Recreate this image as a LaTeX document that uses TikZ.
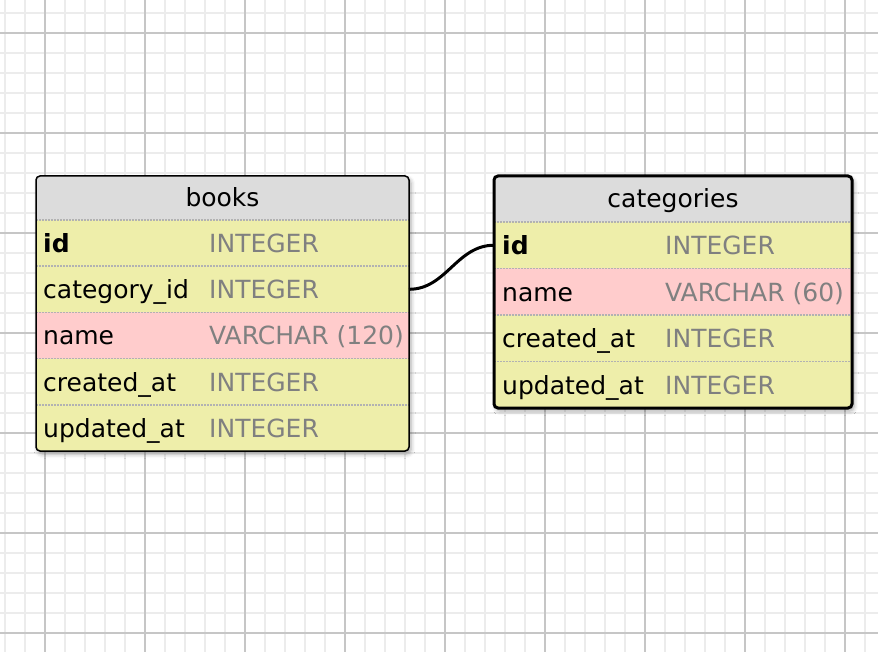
\documentclass[tikz,border=0pt]{standalone}
\usepackage{fontspec}
\setmainfont{DejaVu Sans}
\usetikzlibrary{positioning, shadows.blur}
\definecolor{tblhead}{RGB}{220,220,220}
\definecolor{rowyellow}{RGB}{238,238,170}
\definecolor{rowpink}{RGB}{255,204,204}
\definecolor{typegray}{RGB}{128,128,128}

\begin{document}
\begin{tikzpicture}[x=1pt, y=-1pt, font=\fontsize{25}{29}\selectfont,
		minor/.style={line width=2pt, gray!15},
		major/.style={line width=2pt, gray!45},
		fieldrow/.style={inner sep=0pt, outer sep=0pt},
		hdr/.style={inner sep=0pt, text height=20pt, text depth=3pt},
		sep/.style={gray!60, line width=1.6pt, dash pattern=on 1.6pt off 1.4pt},
		fname/.style={anchor=west, inner sep=0pt, text height=20pt, text depth=1pt},
		ftype/.style={fname, text=typegray},
		tshadow/.style={blur shadow={shadow xshift=2pt, shadow yshift=-3pt, shadow blur radius=4pt, shadow opacity=35}},
		link/.style={line width=3pt}]
		\useasboundingbox (0,0) rectangle (878,652);
		% grid
		\foreach \x in {5,25,...,865} \draw[minor] (\x,0) -- (\x,652);
		\foreach \y in {13,33,...,653} \draw[minor] (0,\y) -- (878,\y);
		\foreach \x in {45,145,...,845} \draw[major] (\x,0) -- (\x,652);
		\foreach \y in {33,133,...,633} \draw[major] (0,\y) -- (878,\y);

		% books
		\node[fieldrow, minimum width=373pt, minimum height=44pt, anchor=north west] (b0) at (36,176) {};
		\node[fieldrow, minimum width=373pt, minimum height=46.2pt, below=0pt of b0] (b1) {};
		\node[fieldrow, minimum width=373pt, minimum height=46.2pt, below=0pt of b1] (b2) {};
		\node[fieldrow, minimum width=373pt, minimum height=46.2pt, below=0pt of b2] (b3) {};
		\node[fieldrow, minimum width=373pt, minimum height=46.2pt, below=0pt of b3] (b4) {};
		\node[fieldrow, minimum width=373pt, minimum height=46.2pt, below=0pt of b4] (b5) {};
		\path[tshadow, rounded corners=4pt] (b0.north west) rectangle (b5.south east);
		\begin{scope}
			\clip[rounded corners=4pt] (b0.north west) rectangle (b5.south east);
			\fill[tblhead] (b0.north west) rectangle (b0.south east);
			\fill[rowyellow] (b1.north west) rectangle (b5.south east);
			\fill[rowpink] (b3.north west) rectangle (b3.south east);
		\end{scope}
		\foreach \r in {b0,b1,b2,b3,b4} \draw[sep] (\r.south west) -- (\r.south east);
		\draw[line width=1.5pt, rounded corners=4pt] (b0.north west) rectangle (b5.south east);
		\node[hdr] (bt) at (b0) {books};
		\foreach \r/\n/\t in {b1/\textbf{id}/INTEGER, b2/category\_id/INTEGER, b3/name/VARCHAR (120), b4/created\_at/INTEGER, b5/updated\_at/INTEGER}{
			\node[fname] (\r n) at ([xshift=7pt]\r.west) {\n};
			\node[ftype] (\r t) at ([xshift=173pt]\r.west) {\t};
		}

		% categories
		\node[fieldrow, minimum width=358pt, minimum height=46pt, anchor=north west] (c0) at (494,176) {};
		\node[fieldrow, minimum width=358pt, minimum height=46.5pt, below=0pt of c0] (c1) {};
		\node[fieldrow, minimum width=358pt, minimum height=46.5pt, below=0pt of c1] (c2) {};
		\node[fieldrow, minimum width=358pt, minimum height=46.5pt, below=0pt of c2] (c3) {};
		\node[fieldrow, minimum width=358pt, minimum height=46.5pt, below=0pt of c3] (c4) {};
		\path[tshadow, rounded corners=4pt] (c0.north west) rectangle (c4.south east);
		\begin{scope}
			\clip[rounded corners=4pt] (c0.north west) rectangle (c4.south east);
			\fill[tblhead] (c0.north west) rectangle (c0.south east);
			\fill[rowyellow] (c1.north west) rectangle (c4.south east);
			\fill[rowpink] (c2.north west) rectangle (c2.south east);
		\end{scope}
		\foreach \r in {c0,c1,c2,c3} \draw[sep] (\r.south west) -- (\r.south east);
		\draw[line width=3pt, rounded corners=4pt] (c0.north west) rectangle (c4.south east);
		\node[hdr] (ct) at (c0) {categories};
		\foreach \r/\n/\t in {c1/\textbf{id}/INTEGER, c2/name/VARCHAR (60), c3/created\_at/INTEGER, c4/updated\_at/INTEGER}{
			\node[fname] (\r n) at ([xshift=8pt]\r.west) {\n};
			\node[ftype] (\r t) at ([xshift=171pt]\r.west) {\t};
		}

		% relation
		\draw[link] (b2.east) to[out=0, in=180] (c1.west);
	\end{tikzpicture}
\end{document}
